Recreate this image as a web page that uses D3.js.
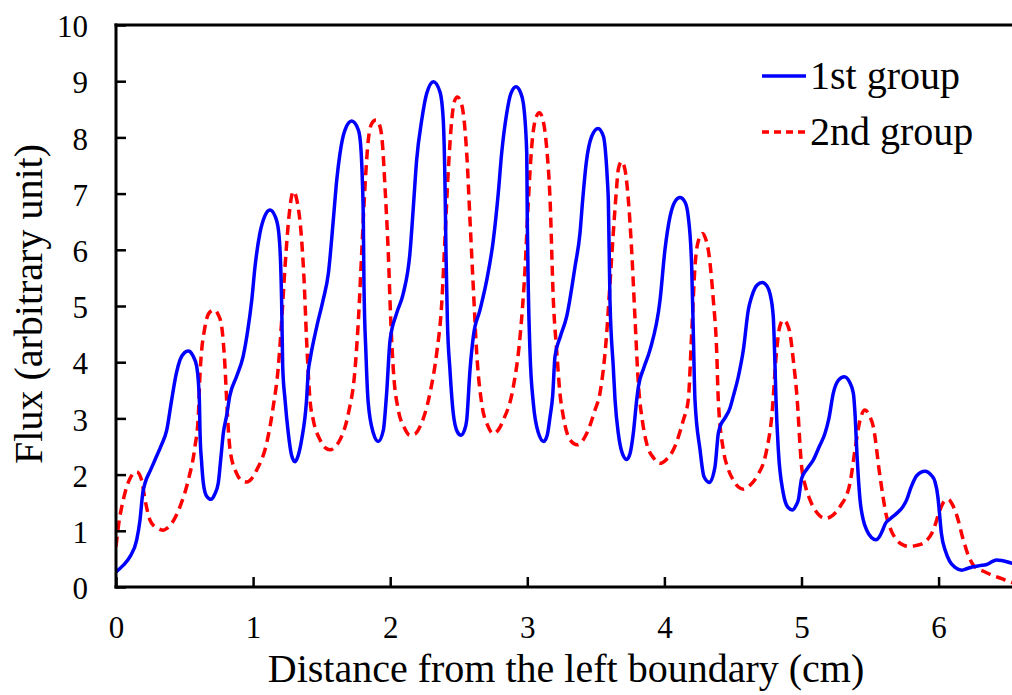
<!DOCTYPE html>
<html>
<head>
<meta charset="utf-8">
<script src="https://cdn.jsdelivr.net/npm/d3@7"></script>
<style>
  html, body { margin: 0; padding: 0; background: #fff; }
  svg { display: block; }
  text { font-family: "Liberation Serif", "Times New Roman", serif; fill: #000; }
</style>
</head>
<body>
<svg id="chart" width="1012" height="695"></svg>
<script>
// ---------- data ----------
const seriesNames = ["1st group", "2nd group"];
const xTicks = [0, 1, 2, 3, 4, 5, 6];
const yTicks = [0, 1, 2, 3, 4, 5, 6, 7, 8, 9, 10];
const xLabel = "Distance from the left boundary (cm)";
const yLabel = "Flux (arbitrary unit)";

// 1st group (solid blue): [distance, flux]
const group1 = [
  [0,0.27],[0.05,0.38],[0.102,0.54],[0.151,0.84],[0.175,1.19],[0.195,1.67],[0.212,1.85],
  [0.25,2.07],[0.284,2.26],[0.33,2.52],[0.37,2.79],[0.406,3.33],[0.44,3.8],[0.467,4.04],
  [0.50,4.17],[0.527,4.2],[0.56,4.12],[0.589,3.92],[0.608,3.33],[0.613,2.74],[0.625,2.2],
  [0.637,1.85],[0.66,1.62],[0.693,1.56],[0.72,1.65],[0.746,1.85],[0.765,2.3],[0.783,2.74],
  [0.807,3.05],[0.83,3.4],[0.88,3.75],[0.927,4.1],[0.96,4.55],[0.99,5.1],[1.014,5.7],
  [1.05,6.3],[1.085,6.6],[1.123,6.71],[1.16,6.6],[1.185,6.35],[1.2,5.8],[1.208,5.1],
  [1.216,3.92],[1.233,3.33],[1.257,2.73],[1.28,2.35],[1.306,2.23],[1.33,2.35],[1.354,2.62],
  [1.39,3.33],[1.403,3.85],[1.415,4.04],[1.464,4.63],[1.51,5.1],[1.549,5.58],[1.585,6.53],
  [1.61,7.24],[1.634,7.72],[1.67,8.13],[1.719,8.29],[1.768,8.13],[1.785,7.85],[1.796,7.3],
  [1.804,6.53],[1.809,5.34],[1.823,4.16],[1.84,3.27],[1.877,2.74],[1.913,2.59],[1.95,2.79],
  [1.974,3.45],[1.999,4.39],[2.047,4.87],[2.096,5.23],[2.144,5.94],[2.169,6.77],[2.193,7.6],
  [2.23,8.31],[2.266,8.78],[2.315,8.99],[2.363,8.81],[2.387,8.31],[2.40,7.12],[2.407,5.94],
  [2.417,4.75],[2.436,3.86],[2.46,3.09],[2.49,2.76],[2.516,2.70],[2.54,2.78],[2.558,2.97],
  [2.582,3.86],[2.606,4.45],[2.655,4.93],[2.704,5.46],[2.752,6.17],[2.788,7.0],[2.813,7.72],
  [2.85,8.43],[2.88,8.78],[2.918,8.9],[2.95,8.8],[2.971,8.61],[2.996,7.72],[3.0,6.53],
  [3.007,5.34],[3.02,4.16],[3.044,3.27],[3.08,2.75],[3.12,2.59],[3.145,2.7],[3.166,3.03],
  [3.185,3.4],[3.202,4.1],[3.24,4.45],[3.287,4.81],[3.348,5.7],[3.384,6.29],[3.404,6.89],
  [3.43,7.55],[3.47,8.02],[3.516,8.16],[3.555,8.02],[3.575,7.6],[3.585,7.2],[3.591,6.89],
  [3.603,5.1],[3.627,3.92],[3.64,3.33],[3.664,2.73],[3.69,2.4],[3.725,2.27],[3.75,2.38],
  [3.773,2.73],[3.798,3.33],[3.81,3.56],[3.85,3.9],[3.895,4.22],[3.968,5.1],[4.004,6.0],
  [4.041,6.59],[4.075,6.85],[4.114,6.93],[4.15,6.85],[4.174,6.59],[4.199,5.7],[4.211,4.51],
  [4.223,3.33],[4.26,2.44],[4.289,1.96],[4.328,1.86],[4.369,2.14],[4.393,2.73],[4.405,2.85],
  [4.44,3.0],[4.478,3.18],[4.503,3.4],[4.54,3.75],[4.576,4.22],[4.612,4.93],[4.637,5.17],
  [4.675,5.37],[4.714,5.42],[4.75,5.35],[4.77,5.22],[4.794,4.81],[4.807,3.92],[4.814,3.33],
  [4.831,2.44],[4.867,1.67],[4.9,1.42],[4.933,1.37],[4.96,1.45],[4.977,1.55],[5.001,1.93],
  [5.04,2.1],[5.086,2.26],[5.13,2.5],[5.171,2.73],[5.2,3.0],[5.232,3.45],[5.27,3.68],
  [5.312,3.74],[5.35,3.65],[5.378,3.45],[5.39,3.1],[5.403,2.44],[5.427,1.55],[5.45,1.2],
  [5.476,1.01],[5.51,0.88],[5.543,0.84],[5.57,0.9],[5.59,1.0],[5.612,1.13],[5.65,1.22],
  [5.694,1.31],[5.74,1.43],[5.767,1.55],[5.80,1.78],[5.84,1.98],[5.90,2.06],[5.95,1.98],
  [5.974,1.87],[5.995,1.6],[6.005,1.35],[6.02,0.96],[6.05,0.64],[6.08,0.46],[6.12,0.35],
  [6.17,0.30],[6.21,0.33],[6.253,0.36],[6.30,0.38],[6.351,0.40],[6.39,0.45],[6.424,0.48],
  [6.46,0.47],[6.497,0.45],[6.54,0.42]
];

// 2nd group (dashed red): [distance, flux]
const group2 = [
  [0,0.72],[0.017,1.07],[0.053,1.55],[0.102,1.93],[0.151,2.05],[0.187,1.9],[0.212,1.55],
  [0.248,1.19],[0.28,1.08],[0.309,1.04],[0.345,1.01],[0.375,1.05],[0.406,1.13],[0.467,1.43],
  [0.527,1.9],[0.576,2.5],[0.60,3.03],[0.613,3.8],[0.649,4.63],[0.68,4.88],[0.715,4.93],
  [0.745,4.85],[0.771,4.63],[0.795,3.92],[0.807,3.33],[0.832,2.44],[0.88,2.02],[0.915,1.9],
  [0.953,1.87],[0.99,1.93],[1.026,2.08],[1.099,2.56],[1.147,3.21],[1.184,3.92],[1.21,4.8],
  [1.233,5.7],[1.262,6.6],[1.293,7.04],[1.322,6.85],[1.35,6.3],[1.371,5.5],[1.39,4.4],
  [1.415,3.33],[1.439,2.97],[1.488,2.62],[1.525,2.48],[1.561,2.44],[1.60,2.5],[1.634,2.62],
  [1.695,3.09],[1.743,3.86],[1.768,4.75],[1.792,5.94],[1.816,7.12],[1.84,7.95],[1.866,8.25],
  [1.896,8.31],[1.925,8.2],[1.943,7.9],[1.962,7.12],[1.986,5.94],[2.004,4.75],[2.023,3.86],
  [2.059,3.15],[2.1,2.85],[2.144,2.70],[2.18,2.72],[2.217,2.85],[2.29,3.45],[2.339,4.16],
  [2.376,5.05],[2.40,6.23],[2.424,7.42],[2.449,8.31],[2.468,8.64],[2.49,8.72],[2.512,8.65],
  [2.533,8.43],[2.558,7.72],[2.582,6.53],[2.606,5.34],[2.631,4.16],[2.667,3.27],[2.71,2.88],
  [2.752,2.73],[2.79,2.8],[2.825,2.97],[2.898,3.56],[2.947,4.45],[2.983,5.64],[3.007,6.83],
  [3.032,7.83],[3.06,8.33],[3.088,8.44],[3.115,8.3],[3.14,7.85],[3.166,6.89],[3.19,5.1],
  [3.214,4.22],[3.238,3.45],[3.263,3.03],[3.311,2.62],[3.365,2.53],[3.433,2.73],[3.494,3.15],
  [3.53,3.45],[3.579,4.51],[3.603,5.4],[3.627,6.29],[3.648,7.0],[3.665,7.45],[3.689,7.57],
  [3.713,7.42],[3.737,6.89],[3.761,6.0],[3.785,4.81],[3.81,3.62],[3.84,2.95],[3.87,2.56],
  [3.92,2.3],[3.968,2.20],[4.015,2.27],[4.065,2.44],[4.138,2.97],[4.174,3.33],[4.199,4.51],
  [4.223,5.70],[4.25,6.18],[4.279,6.29],[4.30,6.2],[4.32,6.0],[4.357,5.1],[4.381,4.22],
  [4.393,3.33],[4.43,2.44],[4.465,2.1],[4.503,1.9],[4.54,1.78],[4.576,1.74],[4.62,1.8],
  [4.673,1.96],[4.746,2.44],[4.783,3.03],[4.819,4.22],[4.84,4.62],[4.867,4.75],[4.895,4.68],
  [4.916,4.51],[4.94,4.04],[4.965,3.45],[5.001,2.14],[5.03,1.78],[5.062,1.55],[5.12,1.3],
  [5.171,1.22],[5.23,1.28],[5.281,1.43],[5.354,1.85],[5.39,2.44],[5.427,2.97],[5.463,3.15],
  [5.495,3.05],[5.524,2.85],[5.573,1.96],[5.621,1.25],[5.655,1.0],[5.694,0.84],[5.74,0.75],
  [5.791,0.72],[5.84,0.74],[5.888,0.78],[5.961,1.01],[6.01,1.37],[6.04,1.52],[6.071,1.56],
  [6.1,1.47],[6.132,1.28],[6.18,0.84],[6.217,0.56],[6.25,0.4],[6.28,0.33],[6.326,0.28],
  [6.4,0.20],[6.46,0.15],[6.52,0.09],[6.55,0.07]
];

// ---------- layout ----------
const svg = d3.select("#chart");
const mLeft = 116, mTop = 25, mBottom = 587;
const x = d3.scaleLinear().domain([0, 6.6]).range([mLeft, mLeft + 6.6 * 137.1]);
const y = d3.scaleLinear().domain([0, 10]).range([mBottom, mTop]);
const mRight = x(6.6);

svg.append("defs").append("clipPath").attr("id", "plotclip")
  .append("rect").attr("x", mLeft).attr("y", mTop).attr("width", mRight - mLeft).attr("height", mBottom - mTop);

// lines
const line = d3.line().x(d => x(d[0])).y(d => y(d[1])).curve(d3.curveMonotoneX);
const plot = svg.append("g").attr("clip-path", "url(#plotclip)");
plot.append("path").datum(group2)
  .attr("d", line).attr("fill", "none").attr("stroke", "#ff0000")
  .attr("stroke-width", 3.5).attr("stroke-dasharray", "10,6");
plot.append("path").datum(group1)
  .attr("d", line).attr("fill", "none").attr("stroke", "#0000ff")
  .attr("stroke-width", 3.5);

// axes
const xAxis = d3.axisBottom(x).tickValues(xTicks).tickFormat(d3.format("d"))
  .tickSizeInner(-10).tickSizeOuter(0);
const gx = svg.append("g").attr("transform", `translate(0,${mBottom})`).call(xAxis);
gx.select(".domain").remove();
gx.selectAll(".tick line").attr("stroke", "#000").attr("stroke-width", 2.5);
gx.selectAll(".tick text").attr("y", 51).attr("dy", null)
  .style("font-size", "31px").style("font-family", "'Liberation Serif', serif");

const yAxis = d3.axisLeft(y).tickValues(yTicks).tickFormat(d3.format("d"))
  .tickSizeInner(-10).tickSizeOuter(0);
const gy = svg.append("g").attr("transform", `translate(${mLeft},0)`).call(yAxis);
gy.select(".domain").remove();
gy.selectAll(".tick line").attr("stroke", "#000").attr("stroke-width", 2.5);
gy.selectAll(".tick text").attr("x", -28).attr("dy", "0.38em")
  .style("font-size", "31px").style("font-family", "'Liberation Serif', serif");

// frame
svg.append("line").attr("x1", mLeft).attr("x2", mLeft).attr("y1", mTop - 1.5).attr("y2", mBottom + 1.5)
  .attr("stroke", "#000").attr("stroke-width", 3);
svg.append("line").attr("x1", mLeft - 1.5).attr("x2", mRight).attr("y1", mBottom).attr("y2", mBottom)
  .attr("stroke", "#000").attr("stroke-width", 3);
svg.append("line").attr("x1", mLeft - 1.5).attr("x2", mRight).attr("y1", mTop).attr("y2", mTop)
  .attr("stroke", "#000").attr("stroke-width", 3);
svg.append("line").attr("x1", mRight).attr("x2", mRight).attr("y1", mTop).attr("y2", mBottom)
  .attr("stroke", "#000").attr("stroke-width", 3);

// axis titles
svg.append("text").attr("x", 566).attr("y", 682).attr("text-anchor", "middle")
  .style("font-size", "40px").text(xLabel);
svg.append("text").attr("transform", "translate(42,304) rotate(-90)").attr("text-anchor", "middle")
  .style("font-size", "40px").text(yLabel);

// legend
const legend = svg.append("g");
const legendItems = [
  { name: seriesNames[0], color: "#0000ff", dash: null, ly: 76 },
  { name: seriesNames[1], color: "#ff0000", dash: "7,5", ly: 132 }
];
legendItems.forEach(it => {
  legend.append("line").attr("x1", 762).attr("x2", 806).attr("y1", it.ly).attr("y2", it.ly)
    .attr("stroke", it.color).attr("stroke-width", 3.5)
    .attr("stroke-dasharray", it.dash);
  legend.append("text").attr("x", 810).attr("y", it.ly + 13)
    .style("font-size", "40px").text(it.name);
});
</script>
</body>
</html>
